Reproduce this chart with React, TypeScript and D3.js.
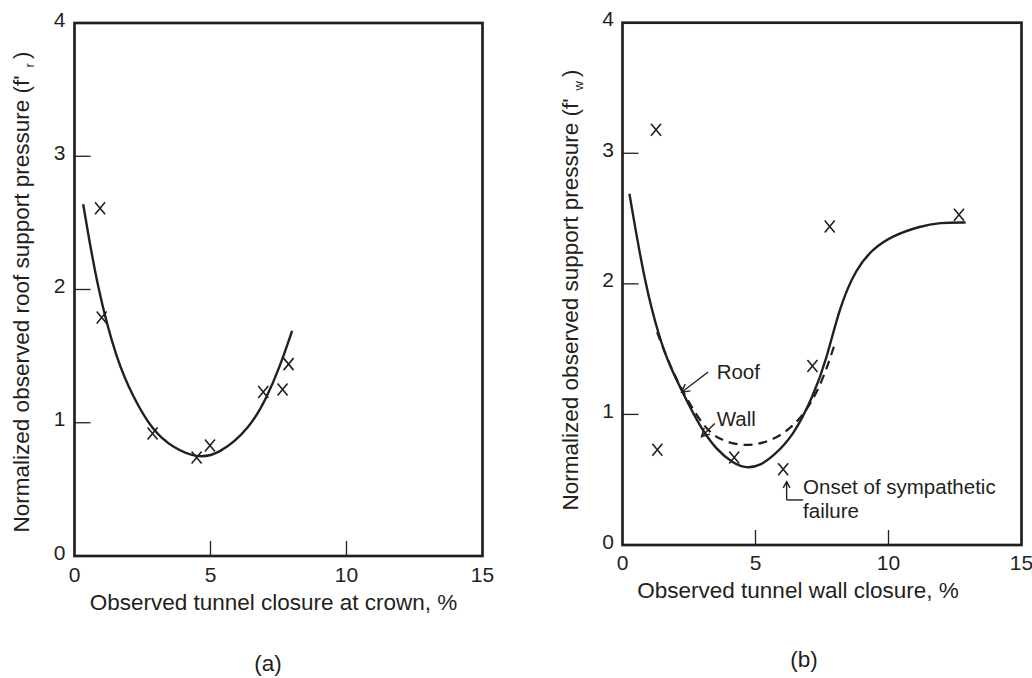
import React from 'react';
import * as d3 from 'd3';

// ---- panel (a): roof, closure at crown ----
const crownClosure = [0.94, 1.0, 2.87, 4.49, 4.98, 6.94, 7.65, 7.87];
const roofPressure = [2.61, 1.79, 0.92, 0.74, 0.83, 1.23, 1.25, 1.44];
const crownFitX = [0.32, 0.85, 1.55, 2.16, 2.87, 3.63, 4.5, 5.3, 6.45, 7.07, 7.55, 8.0];
const crownFitY = [2.64, 2.0, 1.47, 1.19, 0.94, 0.81, 0.735, 0.76, 0.96, 1.19, 1.42, 1.69];

// ---- panel (b): wall closure ----
const wallClosure = [1.26, 1.31, 4.2, 6.04, 7.14, 7.79, 12.65];
const wallPressure = [3.18, 0.73, 0.67, 0.58, 1.37, 2.44, 2.53];
const wallFitX = [0.26, 0.84, 1.41, 1.78, 2.28, 2.91, 3.54, 4.16, 4.66, 5.2, 5.66, 6.41, 7.17, 7.67, 8.17, 8.79, 9.42, 10.17, 11.17, 11.92, 12.9];
const wallFitY = [2.69, 2.0, 1.57, 1.37, 1.16, 0.906, 0.727, 0.626, 0.585, 0.61, 0.68, 0.83, 1.14, 1.42, 1.83, 2.12, 2.27, 2.37, 2.44, 2.47, 2.47];
const roofFitX = [1.3, 1.75, 2.22, 3.03, 3.66, 4.66, 5.66, 6.41, 7.03, 7.54, 7.95];
const roofFitY = [1.63, 1.39, 1.19, 0.906, 0.8, 0.75, 0.8, 0.906, 1.06, 1.27, 1.52];

const xTicks = [0, 5, 10, 15];
const yTicks = [0, 1, 2, 3, 4];

const INK = '#231f20';
const FONT = '"Liberation Sans", Arial, sans-serif';

const zip = (xs: number[], ys: number[]) => xs.map((x, i) => [x, ys[i]] as [number, number]);

function Cross({ cx, cy }: { cx: number; cy: number }) {
  return (
    <path d={`M${cx - 5},${cy - 6}L${cx + 5},${cy + 6}M${cx + 5},${cy - 6}L${cx - 5},${cy + 6}`}
      stroke={INK} strokeWidth={1.6} fill="none" />
  );
}

// open "V" arrow head pointing at (x2,y2)
function Arrow({ x1, y1, x2, y2, head = 9 }: any) {
  const a = Math.atan2(y1 - y2, x1 - x2);
  const s = 0.5;
  const h1 = [x2 + head * Math.cos(a + s), y2 + head * Math.sin(a + s)];
  const h2 = [x2 + head * Math.cos(a - s), y2 + head * Math.sin(a - s)];
  return (
    <g stroke={INK} strokeWidth={1.4} fill="none">
      <line x1={x1} y1={y1} x2={x2} y2={y2} />
      <path d={`M${h1[0]},${h1[1]}L${x2},${y2}L${h2[0]},${h2[1]}`} />
    </g>
  );
}

function Frame({ x, y, xLabelY, yLabelX, title, sub, titleX, titleY, ytX, ytY, caption, capX, capY }: any) {
  const [x0, x1] = x.range();
  const [y0, y1] = y.range();
  return (
    <g>
      <rect x={x0} y={y1} width={x1 - x0} height={y0 - y1} fill="none" stroke={INK} strokeWidth={2.7} />
      {yTicks.filter(t => t > 0 && t < 4).map(t => (
        <line key={t} x1={x0} x2={x0 + 16} y1={y(t)} y2={y(t)} stroke={INK} strokeWidth={1.3} />
      ))}
      {xTicks.filter(t => t > 0 && t < 15).map(t => (
        <line key={t} x1={x(t)} x2={x(t)} y1={y0} y2={y0 - 15} stroke={INK} strokeWidth={1.3} />
      ))}
      {yTicks.map(t => (
        <text key={t} x={yLabelX} y={y(t) + 3.5} textAnchor="end" fontSize={21}>{t}</text>
      ))}
      {xTicks.map(t => (
        <text key={t} x={x(t)} y={xLabelY} textAnchor="middle" fontSize={21}>{t}</text>
      ))}
      <text x={titleX} y={titleY} textAnchor="middle" fontSize={22.5}>{title}</text>
      <text transform={`translate(${ytX},${ytY}) rotate(-90)`} textAnchor="middle" fontSize={22.5}>
        {'Normalized observed ' + sub.text + ' pressure (f\''}
        <tspan fontSize={13} dx={8} dy={5}>{sub.s}</tspan>
        <tspan dx={4} dy={-5}>)</tspan>
      </text>
      <text x={capX} y={capY} textAnchor="middle" fontSize={22.5}>{caption}</text>
    </g>
  );
}

export default function App() {
  const xA = d3.scaleLinear().domain([0, 15]).range([74.5, 482.5]);
  const yA = d3.scaleLinear().domain([0, 4]).range([556, 23]);
  const xB = d3.scaleLinear().domain([0, 15]).range([622.5, 1021.5]);
  const yB = d3.scaleLinear().domain([0, 4]).range([545, 22.7]);

  const lineA = d3.line<[number, number]>().x(d => xA(d[0])).y(d => yA(d[1])).curve(d3.curveBasis);
  const lineB = d3.line<[number, number]>().x(d => xB(d[0])).y(d => yB(d[1])).curve(d3.curveBasis);

  return (
    <div style={{ position: 'absolute', left: 0, top: 0 }}>
      <svg width={1032} height={678} viewBox="0 0 1032 678" fontFamily={FONT} fill={INK}
        style={{ display: 'block', background: '#fff' }}>
        {/* (a) */}
        <Frame x={xA} y={yA} xLabelY={582} yLabelX={65.5}
          title="Observed tunnel closure at crown, %" titleX={273.5} titleY={609.5}
          sub={{ text: 'roof support', s: 'r' }} ytX={29} ytY={292}
          caption="(a)" capX={268} capY={671} />
        <path d={lineA(zip(crownFitX, crownFitY)) || ''} fill="none" stroke={INK} strokeWidth={2.4} />
        {crownClosure.map((c, i) => <Cross key={i} cx={xA(c)} cy={yA(roofPressure[i])} />)}

        {/* (b) */}
        <Frame x={xB} y={yB} xLabelY={570} yLabelX={614}
          title="Observed tunnel wall closure, %" titleX={798} titleY={598}
          sub={{ text: 'support', s: 'w' }} ytX={578} ytY={290}
          caption="(b)" capX={804} capY={667} />
        <path d={lineB(zip(wallFitX, wallFitY)) || ''} fill="none" stroke={INK} strokeWidth={2.4} />
        <path d={lineB(zip(roofFitX, roofFitY)) || ''} fill="none" stroke={INK} strokeWidth={2.2} strokeDasharray="9,6" />
        {wallClosure.map((c, i) => <Cross key={i} cx={xB(c)} cy={yB(wallPressure[i])} />)}

        <text x={xB(3.54)} y={yB(1.33) + 7.5} fontSize={20.5}>Roof</text>
        <Arrow x1={xB(3.22)} y1={yB(1.325)} x2={xB(2.22)} y2={yB(1.17)} />
        <text x={xB(3.54)} y={yB(0.97) + 7.5} fontSize={20.5}>Wall</text>
        <Arrow x1={xB(3.47)} y1={yB(0.93)} x2={xB(2.97)} y2={yB(0.83)} />
        <Arrow x1={xB(6.17)} y1={yB(0.345)} x2={xB(6.17)} y2={yB(0.485)} head={7} />
        <line x1={xB(6.17)} y1={yB(0.345)} x2={xB(6.79)} y2={yB(0.345)} stroke={INK} strokeWidth={1.4} />
        <text x={xB(6.79)} y={yB(0.446) + 7.5} fontSize={20.5}>Onset of sympathetic</text>
        <text x={xB(6.79)} y={yB(0.268) + 7.5} fontSize={20.5}>failure</text>
      </svg>
    </div>
  );
}
